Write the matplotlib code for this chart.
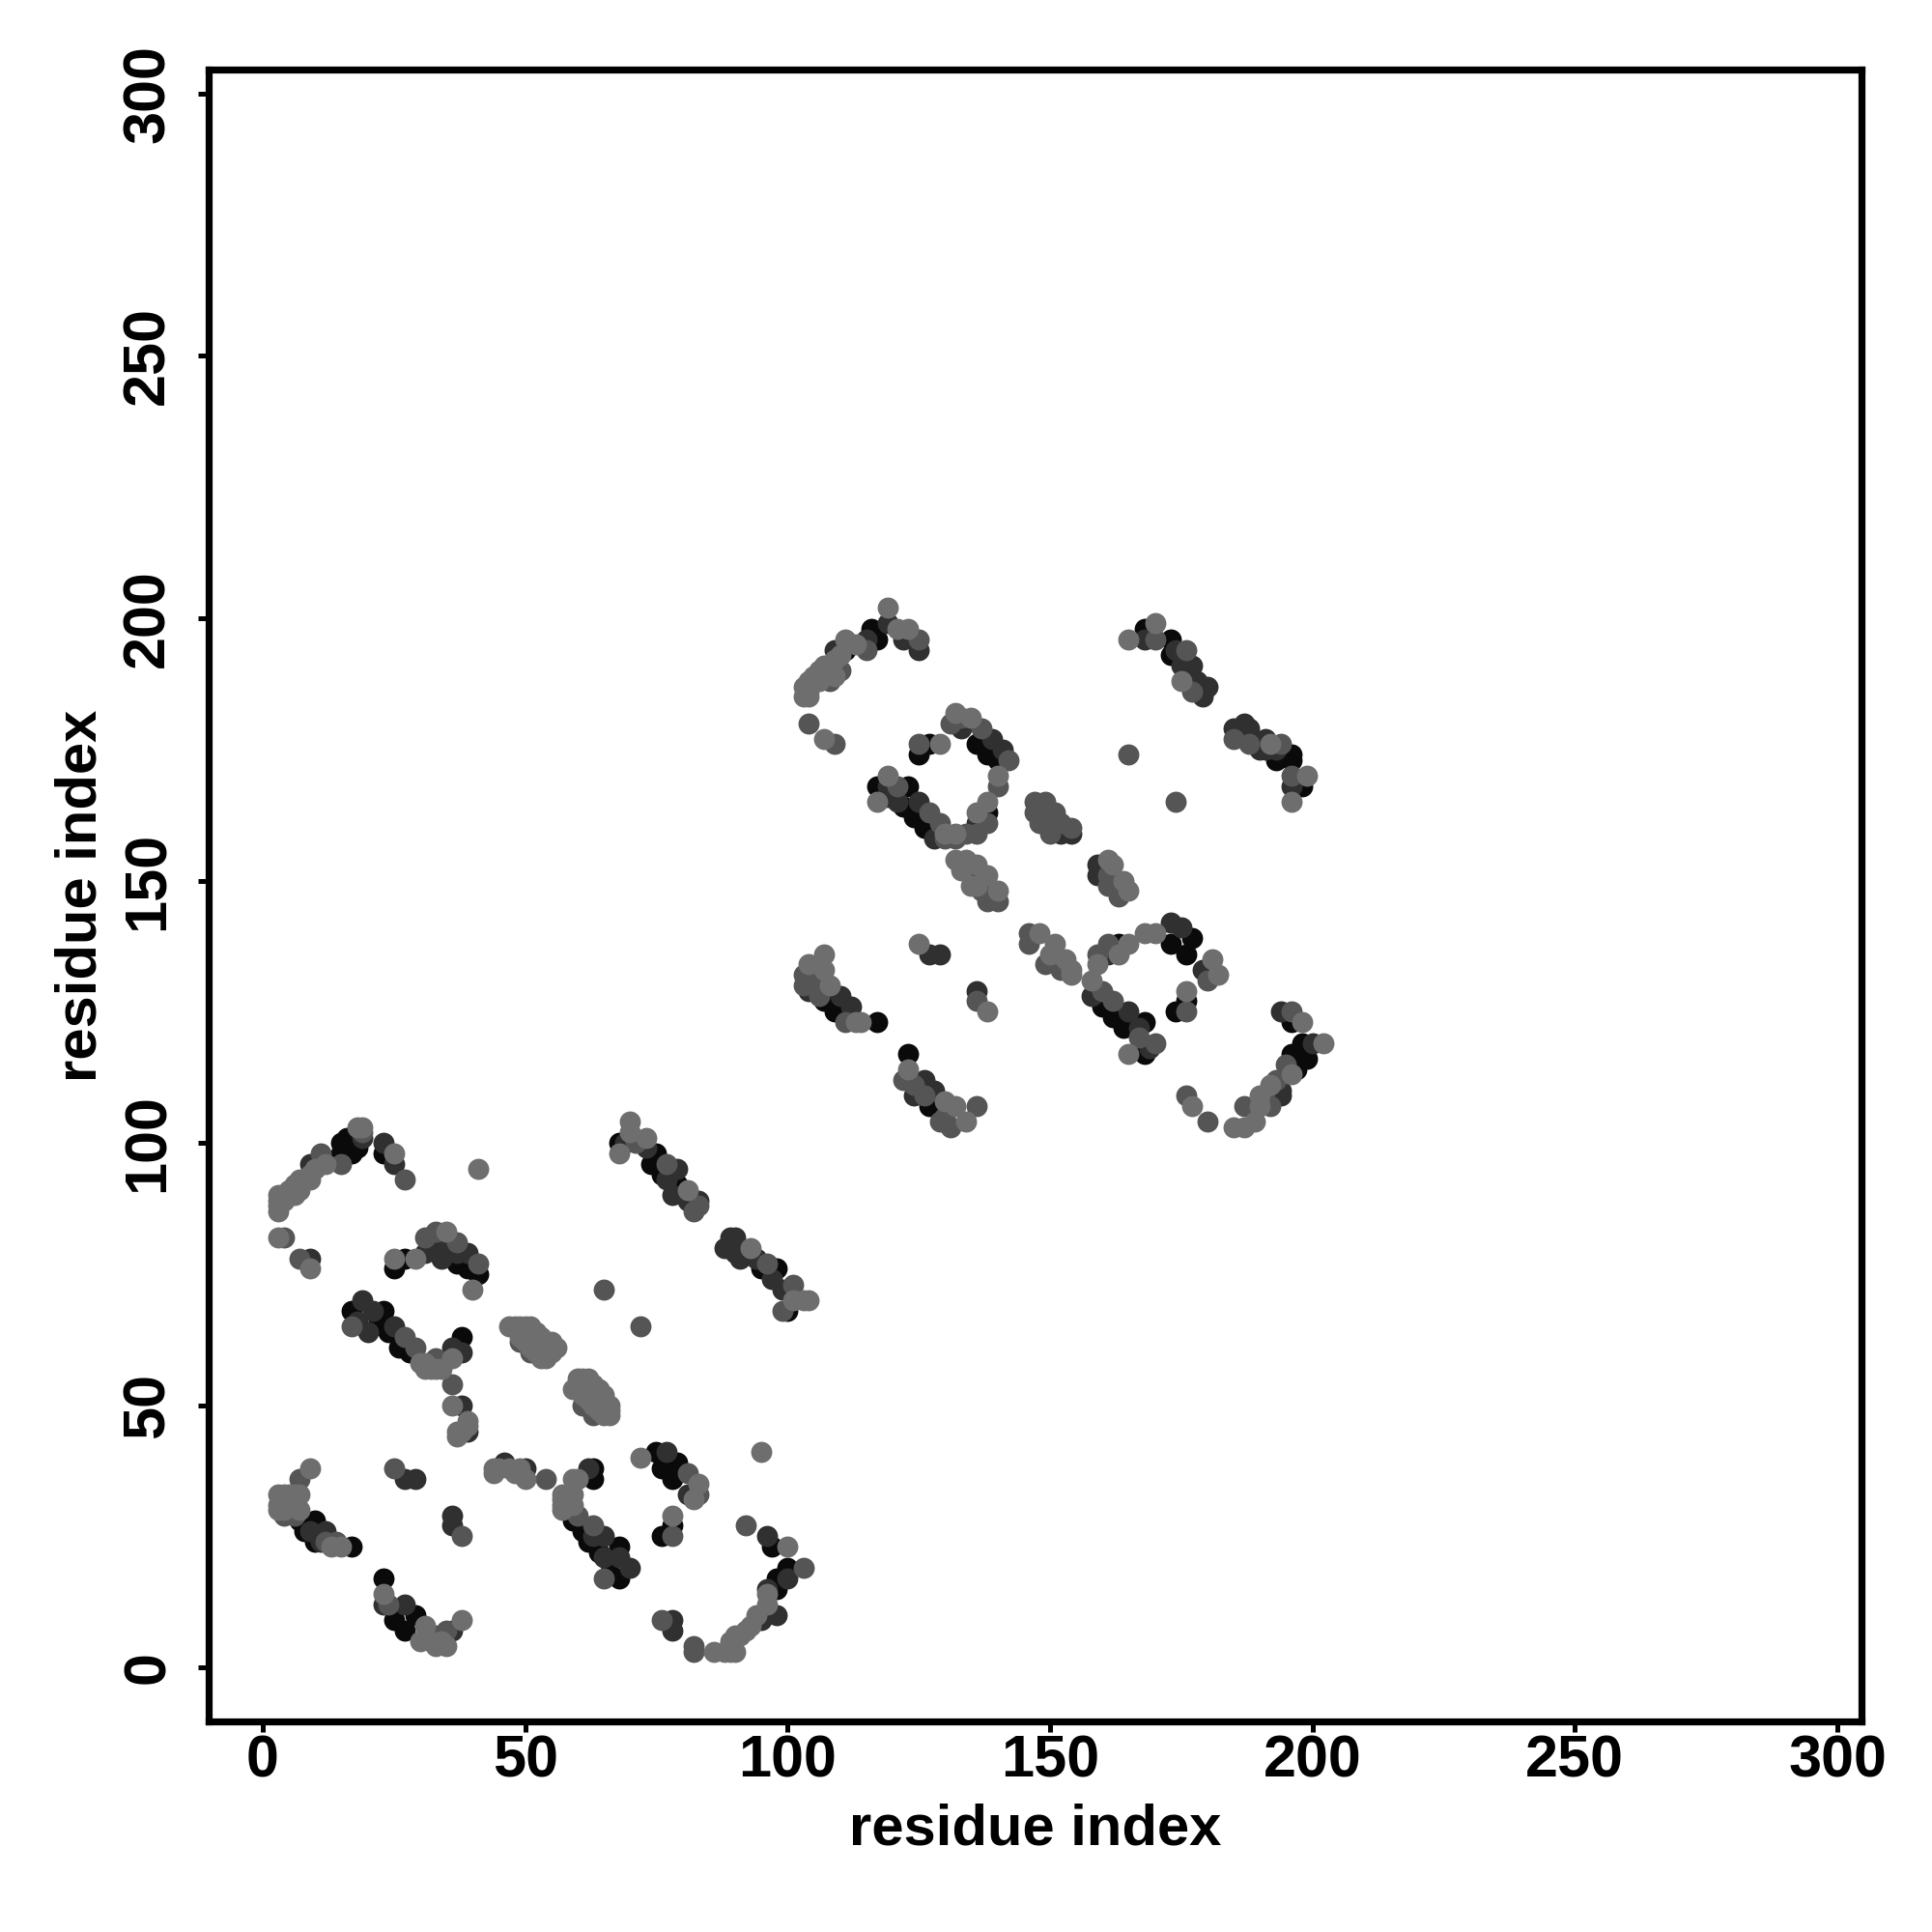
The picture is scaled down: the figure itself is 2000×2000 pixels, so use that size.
import numpy as np
import matplotlib
matplotlib.use("Agg")
import matplotlib.pyplot as plt

plt.rcParams["font.family"] = ["Liberation Sans", "DejaVu Sans"]
plt.rcParams["font.weight"] = "bold"

# contacts, split by grey level (residue i, residue j)
black = [(15,98),(15,100),(16,99),(16,101),(17,98),(17,100),(18,99),(23,98),(27,78),(25,76),(36,79),(37,77),(39,76),(41,75),
         (17,68),(23,68),(22,66),(24,64),(26,61),(28,60),(38,63),(75,98),(74,96),(76,94),(79,92),(68,100),(92,79),(95,76),(98,76),
         (100,68),(7,28),(10,28),(8,26),(10,24),(17,23),(63,36),(63,38),(59,28),(61,26),(62,24),(64,22),(66,20),(68,23),(68,17),
         (75,41),(76,38),(78,36),(79,39),(76,25),(78,27),(97,23),(100,19),(98,17),(98,15),(23,17),(25,9),(29,10),(27,7),
         (116,198),(117,196),(111,194),(125,174),(127,176),(136,176),(138,174),(140,173),(117,168),(123,168),(122,164),(124,162),
         (126,160),(138,163),(127,107),(123,117),(107,127),(109,125),(117,123),(163,138),(160,126),(162,124),(164,122),(168,123),
         (168,117),(177,139),(173,138),(176,136),(176,127),(174,125),(198,119),(196,117),(199,116),(197,114),(196,123),(168,198),
         (173,196),(173,193),(193,173),(196,174),(196,173),(198,168)]

dark = [(9,96),(19,101),(23,100),(25,96),(9,78),(32,81),(33,82),(39,79),(19,70),(21,68),(25,65),(36,61),(38,60),(38,50),(39,45),
        (73,99),(69,100),(78,90),(83,89),(89,82),(90,82),(91,78),(88,80),(12,26),(46,39),(50,38),(62,38),(65,25),(68,21),(70,19),
        (77,41),(81,33),(100,17),(96,15),(98,10),(95,9),(78,9),(78,7),(96,25),(27,36),(29,36),(36,29),(36,27),(23,12),(27,12),(36,7),
        (109,194),(115,196),(119,199),(122,196),(125,194),(133,179),(139,177),(141,175),(119,168),(125,165),(128,158),(136,161),
        (104,129),(110,128),(112,126),(127,136),(129,136),(136,129),(159,153),(159,151),(161,136),(158,128),(165,125),(173,142),
        (175,141),(179,133),(194,125),(200,119),(194,110),(194,109),(126,112),(124,109),(128,110),(168,196),(175,191),(177,191),
        (179,187),(180,187),(179,185),(185,179),(187,180),(188,179),(191,177),(190,175),(196,168),(154,159),(152,159),
        (77,93),(79,95),(81,89),(90,79),(94,78),(97,74),(99,72),(18,66),(20,64),(31,79),(34,78),(35,81),(37,79),(65,21),(63,25),
        (9,26),(11,24),(174,194),(176,189),(178,188),(191,175),(193,175),(169,118),(167,122),(119,166),(121,165)]

mid = [(11,98),(15,96),(19,102),(27,93),(4,82),(7,78),(31,82),(33,83),(37,81),(41,77),(17,65),(27,63),(29,61),(33,59),(36,54),
       (65,72),(72,65),(71,100),(82,87),(83,88),(77,96),(96,77),(101,73),(99,68),(7,36),(12,24),(14,24),(25,38),(38,25),(54,36),
       (60,29),(63,27),(65,17),(81,37),(83,33),(78,25),(92,27),(103,19),(76,9),(82,4),(82,3),(24,12),(35,7),(33,6),
       (108,188),(110,190),(115,194),(125,196),(131,180),(133,181),(137,179),(142,173),(140,168),(125,176),(121,168),(127,163),
       (129,161),(130,158),(132,158),(134,159),(136,159),(138,161),(147,165),(147,163),(149,165),(151,163),(150,159),(148,161),
       (154,160),(140,146),(138,146),(163,147),(161,149),(103,132),(103,130),(104,131),(111,123),(136,127),(146,140),(146,138),
       (152,133),(159,136),(161,138),(160,129),(162,127),(167,120),(170,119),(180,131),(176,125),(196,125),(192,107),(187,107),
       (176,109),(180,104),(122,112),(136,107),(131,103),(129,104),(130,105),(104,180),(109,176),(165,174),(174,165),(170,196),
       (176,194),(177,186),(185,177),(188,176),(194,176),(196,170),(195,115),
       (49,62),(51,60),(53,61),(61,50),(63,48),(148,163),(150,161),(152,161),(135,151),(137,148),(161,151),(163,149),(149,134),(151,135),
       (4,29),(6,29),(106,128),(105,130),(124,111),(126,109),(193,112),(191,108)]

light = [(3,87),(3,88),(3,89),(3,90),(4,89),(4,90),(5,91),(5,90),(6,92),(6,90),(7,93),(7,91),(8,93),(9,94),(9,93),(10,95),(12,96),
         (18,103),(19,103),(25,98),(41,95),(3,82),(9,76),(25,78),(29,78),(35,83),(40,72),(30,58),(31,58),(31,57),(32,57),(33,57),
         (34,57),(36,59),(36,50),(37,45),(38,45),(39,46),(39,47),(37,44),(47,65),(48,65),(49,65),(50,65),(51,65),(52,64),(53,63),
         (54,62),(55,62),(56,61),(55,60),(54,59),(49,63),(50,62),(51,61),(52,60),(53,59),(59,53),(60,55),(61,55),(62,55),(63,54),
         (64,53),(65,52),(66,50),(66,49),(66,48),(65,48),(64,49),(63,50),(62,51),(61,52),(60,53),(62,53),(64,51),(70,104),(68,98),
         (70,102),(73,101),(81,91),(93,80),(103,70),(104,70),(101,70),(9,38),(3,33),(4,33),(5,33),(6,33),(7,33),(3,31),(3,30),(4,30),
         (5,31),(7,30),(13,23),(15,23),(44,37),(44,38),(45,38),(47,38),(48,37),(49,38),(50,36),(59,36),(60,36),(57,33),(57,32),(57,31),
         (57,30),(59,33),(59,31),(72,40),(83,35),(82,32),(78,29),(95,41),(100,23),(96,14),(96,12),(86,3),(88,3),(89,3),(90,3),(89,5),
         (90,6),(91,6),(92,7),(93,8),(94,10),(23,14),(31,8),(30,5),(32,5),(33,4),(34,5),(35,4),(38,9),
         (103,185),(103,187),(104,185),(104,186),(104,188),(105,189),(106,188),(106,190),(107,191),(108,190),(109,192),(109,189),
         (110,193),(111,196),(113,195),(119,202),(121,198),(123,198),(107,177),(129,176),(132,182),(135,181),(140,170),(119,170),
         (117,165),(130,159),(132,159),(136,163),(138,165),(132,154),(134,154),(136,153),(138,151),(140,148),(135,149),(133,152),
         (136,149),(161,154),(162,153),(164,150),(165,148),(107,136),(104,134),(107,133),(108,130),(113,123),(114,123),(125,138),
         (138,125),(148,140),(151,138),(153,135),(154,133),(154,132),(150,136),(165,138),(163,136),(159,134),(158,131),(165,117),
         (168,140),(170,140),(181,135),(182,132),(176,129),(198,123),(202,119),(196,113),(192,111),(190,109),(190,107),(189,104),
         (185,103),(187,103),(177,107),(123,114),(130,108),(132,107),(134,104),(165,196),(170,199),(175,188),(192,176),(199,170),
         (196,165)]

tone_greys = ["#0a0a0a", "#303030", "#555555", "#6e6e6e"]
tick_vals = [0, 50, 100, 150, 200, 250, 300]

fig = plt.figure(figsize=(10, 10), dpi=200)
ax = fig.add_axes([0.108, 0.109, 0.8555, 0.855])

for pts, grey in zip([black, dark, mid, light], tone_greys):
    pts = np.array(pts)
    ax.scatter(pts[:, 0], pts[:, 1], s=62, c=grey, linewidths=0, zorder=3)

ax.set_xlim(-10.3, 304.6)
ax.set_ylim(-10.3, 304.6)
ax.set_xticks(tick_vals)
ax.set_yticks(tick_vals)
ax.tick_params(length=4, width=1.8, labelsize=22)
ax.tick_params(axis="x", pad=1)
ax.tick_params(axis="y", pad=8)
plt.setp(ax.get_yticklabels(), rotation=90, va="center")
for s in ax.spines.values():
    s.set_linewidth(2.6)

ax.set_xlabel("residue index", fontsize=21.5, fontweight="bold", labelpad=5)
ax.set_ylabel("residue index", fontsize=21.5, fontweight="bold", labelpad=5)

fig.savefig("out.png", dpi=200)
